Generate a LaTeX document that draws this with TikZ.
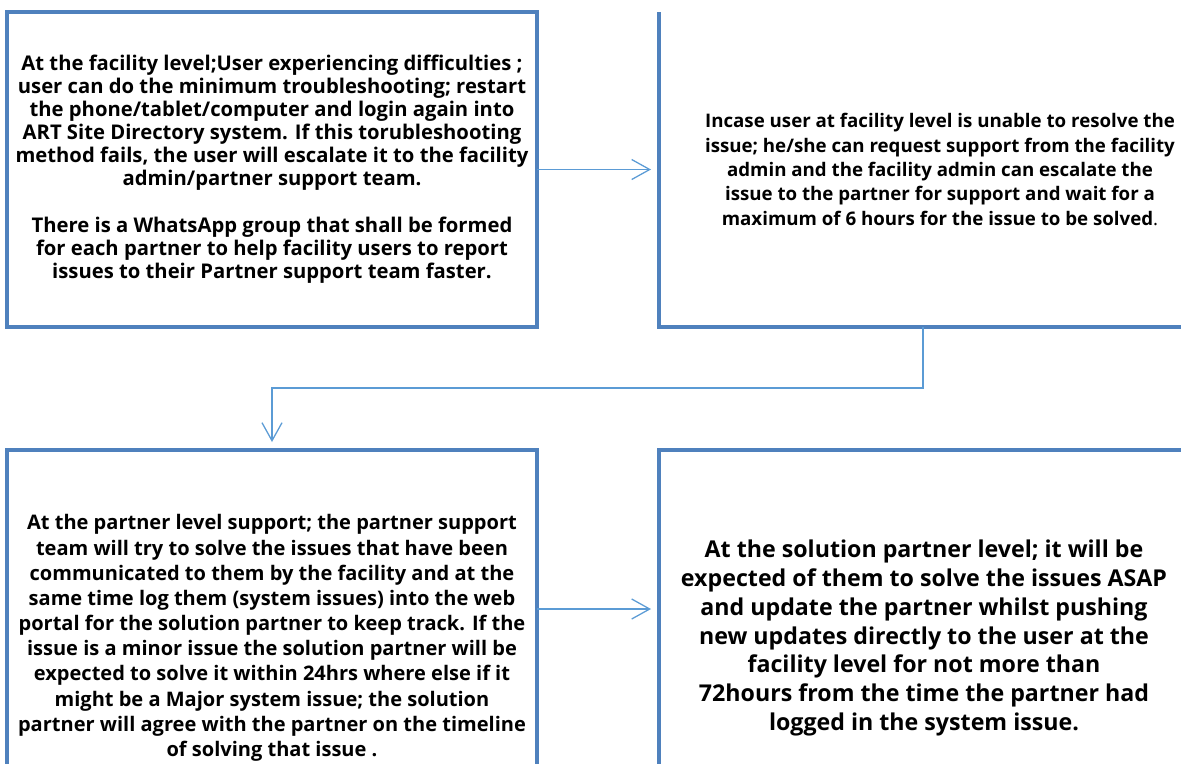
\documentclass[tikz,border=0pt]{standalone}
\usepackage{fontspec}
\setmainfont{Open Sans}
\usetikzlibrary{arrows.meta, positioning}
\definecolor{boxblue}{RGB}{79,129,189}
\definecolor{linkblue}{RGB}{91,155,213}

\begin{document}
\begin{tikzpicture}[node distance=3.05cm,
		box/.style={draw=boxblue, line width=2.2pt, rectangle, outer sep=0pt, inner sep=0pt,
			minimum width=13.25cm, minimum height=7.875cm, align=center,
			font=\bfseries\fontsize{14.4}{16.4}\selectfont},
		boxline/.style={draw=boxblue, line width=2.2pt},
		link/.style={draw=linkblue, line width=0.9pt, shorten >=2mm},
		>={Straight Barb[length=4.5mm,width=5mm]}]
			\useasboundingbox (0,0) rectangle (29.525,-19.075);
			\clip (0,0) rectangle (29.525,-19.075);
			\node[box, anchor=north west] (facility) at (0.175,-0.3) {At the facility level;User experiencing difficulties ;\\
				user can do the minimum troubleshooting; restart\\
				the phone/tablet/computer and login again into\\
				ART Site Directory system. If this torubleshooting\\
				method fails, the user will escalate it to the facility\\
				admin/partner support team.\\[17pt]
				There is a WhatsApp group that shall be formed\\
				for each partner to help facility users to report\\
				issues to their Partner support team faster.};
			\node[box, draw=none, minimum width=14.05cm, font=\bfseries\fontsize{13.3}{17.4}\selectfont] (admin) [right=of facility] {Incase user at facility level is unable to resolve the\\
				issue; he/she can request support from the facility\\
				admin and the facility admin can escalate the\\
				issue to the partner for support and wait for a\\
				maximum of 6 hours for the issue to be solved{\mdseries .}};
			\node[box, minimum height=9.4cm, font=\bfseries\fontsize{14.25}{17.9}\selectfont] (partner) [below=3.075cm of facility] {At the partner level support; the partner support\\
				team will try to solve the issues that have been\\
				communicated to them by the facility and at the\\
				same time log them (system issues) into the web\\
				portal for the solution partner to keep track. If the\\
				issue is a minor issue the solution partner will be\\
				expected to solve it within 24hrs where else if it\\
				might be a Major system issue; the solution\\
				partner will agree with the partner on the timeline\\
				of solving that issue .};
			\node[box, minimum height=9.4cm, font=\bfseries\fontsize{16.5}{20.4}\selectfont] (solution) [right=of partner] {At the solution partner level; it will be\\
				expected of them to solve the issues ASAP\\
				and update the partner whilst pushing\\
				new updates directly to the user at the\\
				facility level for not more than\\
				72hours from the time the partner had\\
				logged in the system issue.};
			\draw[boxline] (admin.north west) -- (admin.south west) -- (admin.south east);
			\draw[->, link] (facility) -- (admin);
			\draw[->, link] ([yshift=7.25mm]partner.east) -- ([yshift=7.25mm]solution.west);
			\draw[->, link] ([xshift=-4.25mm]admin.south) -- ++(0,-1.525) -| (partner.north);
		\end{tikzpicture}
\end{document}
